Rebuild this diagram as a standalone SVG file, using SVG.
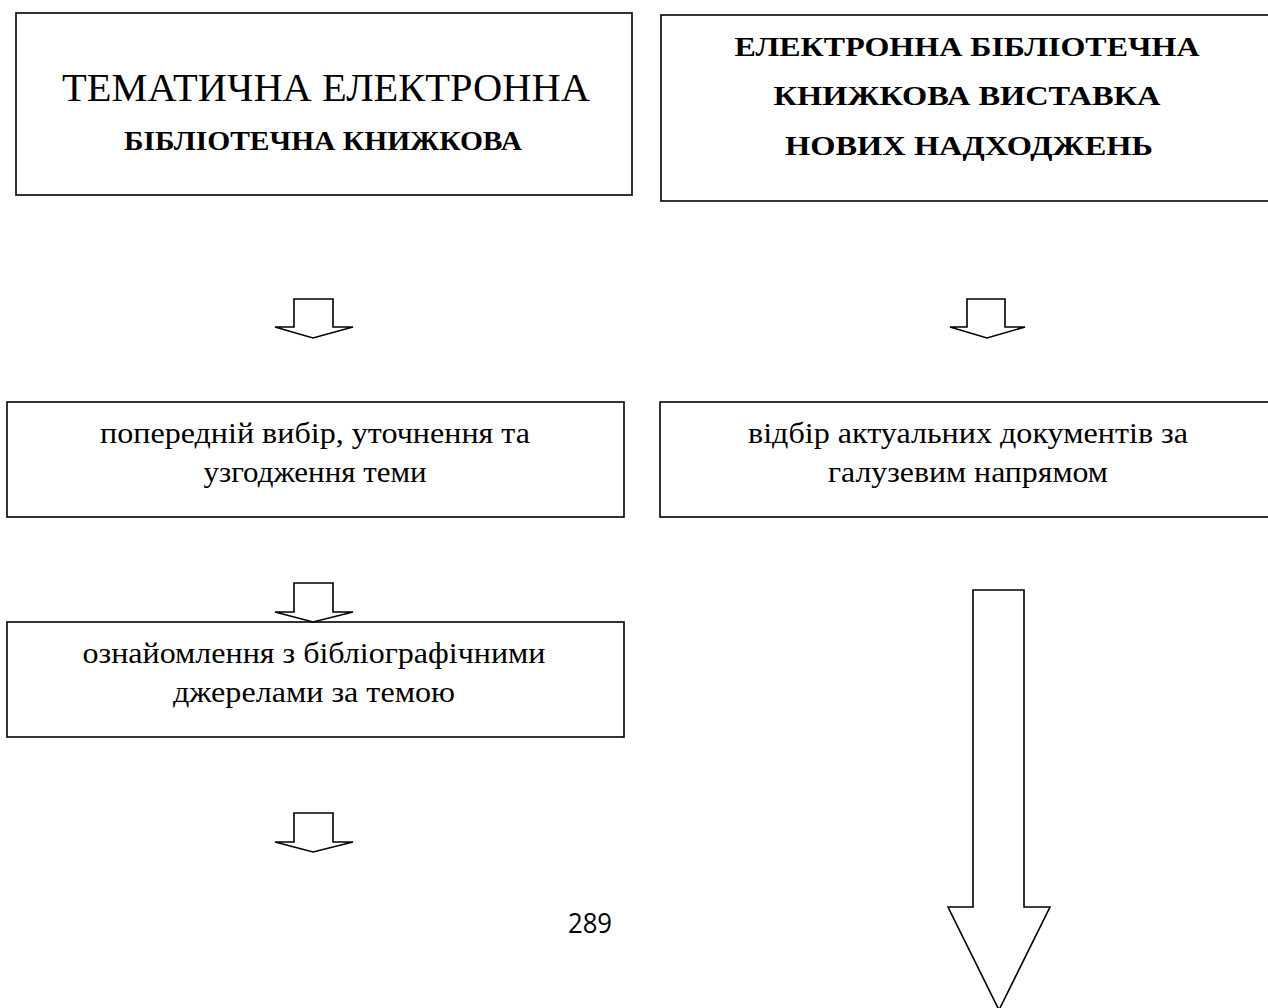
<svg xmlns="http://www.w3.org/2000/svg" width="1268" height="1008" viewBox="0 0 1268 1008">
<style>
.box{fill:#fff;stroke:#000;stroke-width:1.6}
.arr{fill:#fff;stroke:#000;stroke-width:1.6;stroke-linejoin:miter}
.t{font-family:"Liberation Serif","Times New Roman",serif;fill:#000;text-anchor:middle}
.b{font-weight:bold;font-size:27px}
.n{font-size:30px}
.pg{font-family:"Open Sans","Liberation Sans",sans-serif;font-size:28px;fill:#000}
</style>
<rect width="1268" height="1008" fill="#fff"/>
<g id="node-thematic">
<rect class="box" x="16" y="13" width="616" height="182"/>
<text class="t" x="326" y="101" font-size="40" textLength="528" lengthAdjust="spacingAndGlyphs">ТЕМАТИЧНА ЕЛЕКТРОННА</text>
<text class="t b" x="323" y="150" textLength="398" lengthAdjust="spacingAndGlyphs">БІБЛІОТЕЧНА КНИЖКОВА</text>
</g>
<g id="node-new">
<rect class="box" x="661" y="15" width="620" height="186"/>
<text class="t b" x="967" y="56" textLength="465" lengthAdjust="spacingAndGlyphs">ЕЛЕКТРОННА БІБЛІОТЕЧНА</text>
<text class="t b" x="967" y="105" textLength="387" lengthAdjust="spacingAndGlyphs">КНИЖКОВА ВИСТАВКА</text>
<text class="t b" x="969" y="155" textLength="368" lengthAdjust="spacingAndGlyphs">НОВИХ НАДХОДЖЕНЬ</text>
</g>
<g id="node-select-topic">
<rect class="box" x="7" y="402" width="617" height="115"/>
<text class="t n" x="315" y="443" textLength="430" lengthAdjust="spacingAndGlyphs">попередній вибір, уточнення та</text>
<text class="t n" x="315" y="482" textLength="223" lengthAdjust="spacingAndGlyphs">узгодження теми</text>
</g>
<g id="node-select-docs">
<rect class="box" x="660" y="402" width="620" height="115"/>
<text class="t n" x="968" y="443" textLength="440" lengthAdjust="spacingAndGlyphs">відбір актуальних документів за</text>
<text class="t n" x="968" y="482" textLength="280" lengthAdjust="spacingAndGlyphs">галузевим напрямом</text>
</g>
<g id="node-biblio">
<rect class="box" x="7" y="622" width="617" height="115"/>
<text class="t n" x="314" y="663" textLength="463" lengthAdjust="spacingAndGlyphs">ознайомлення з бібліографічними</text>
<text class="t n" x="314" y="702" textLength="282" lengthAdjust="spacingAndGlyphs">джерелами за темою</text>
</g>
<g id="connectors">
<polygon class="arr" points="294,299 333,299 333,327 353,327 313,338 275,327 294,327"/>
<polygon class="arr" points="967,299 1005,299 1005,327 1025,327 987,338 950,327 967,327"/>
<polygon class="arr" points="294,583 333,583 333,612 353,612 313,622 275,612 294,612"/>
<polygon class="arr" points="294,813 333,813 333,842 353,842 313,852 275,842 294,842"/>
<polygon class="arr" points="973,590 1024,590 1024,907 1050,907 999,1010 948,907 973,907"/>
</g>
<text class="pg" x="568" y="933" textLength="44" lengthAdjust="spacingAndGlyphs">289</text>
</svg>
